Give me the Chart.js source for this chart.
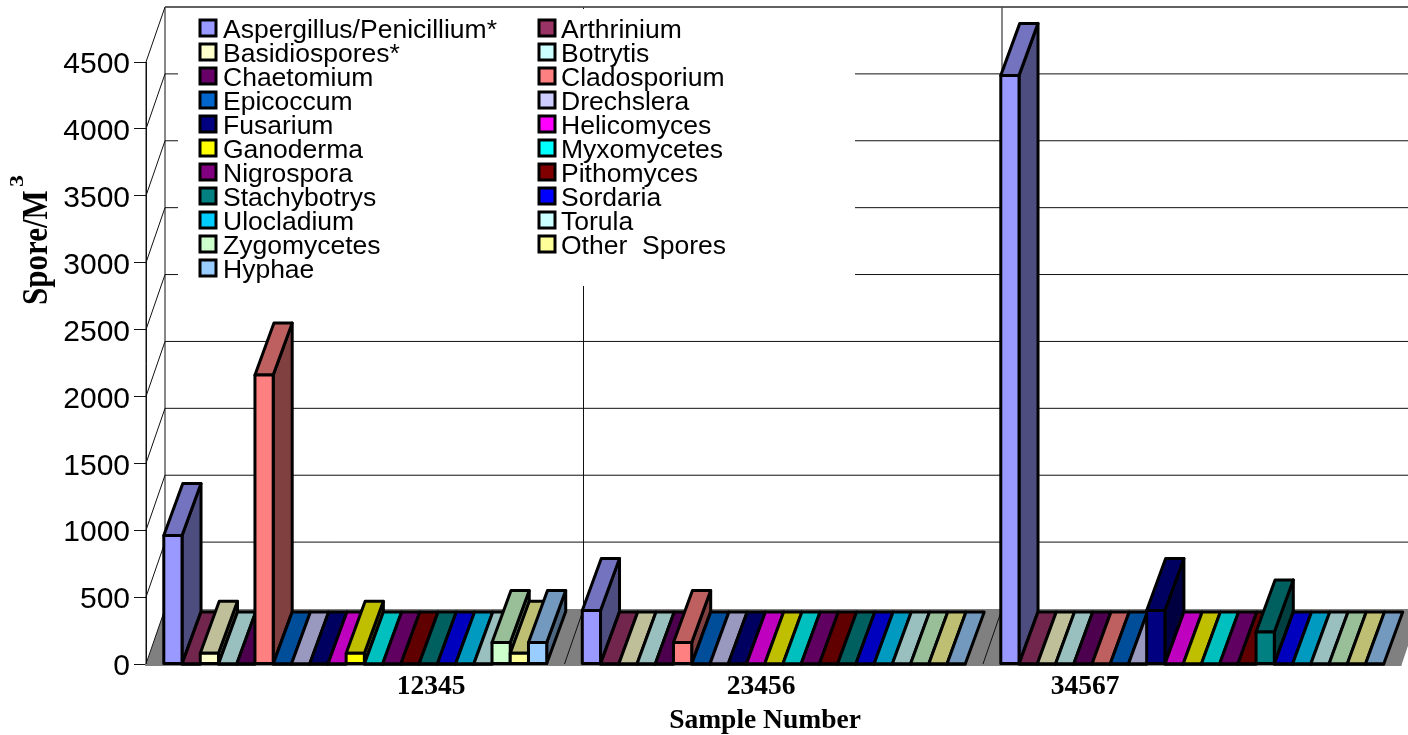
<!DOCTYPE html>
<html>
<head>
<meta charset="utf-8">
<style>
  html, body { margin: 0; padding: 0; background: #fff; overflow: hidden; }
  canvas { display: block; }
</style>
<script src="https://cdn.jsdelivr.net/npm/chart.js@4"></script>
</head>
<body>
<canvas id="sporeChart" width="1408" height="735"></canvas>
<script>
const categories = ["12345", "23456", "34567"];
const seriesNames = [
  "Aspergillus/Penicillium*", "Arthrinium", "Basidiospores*", "Botrytis",
  "Chaetomium", "Cladosporium", "Epicoccum", "Drechslera", "Fusarium",
  "Helicomyces", "Ganoderma", "Myxomycetes", "Nigrospora", "Pithomyces",
  "Stachybotrys", "Sordaria", "Ulocladium", "Torula", "Zygomycetes",
  "Other  Spores", "Hyphae",
];
const seriesColors = [
  "#9999FF", "#993366", "#FFFFCC", "#CCFFFF", "#660066", "#FF8080", "#0066CC",
  "#CCCCFF", "#000080", "#FF00FF", "#FFFF00", "#00FFFF", "#800080", "#800000",
  "#008080", "#0000FF", "#00CCFF", "#CCFFFF", "#CCFFCC", "#FFFF99", "#99CCFF",
];
const sample12345 = [960, 0, 80, 0, 0, 2160, 0, 0, 0, 0, 80, 0, 0, 0, 0, 0, 0, 0, 160, 80, 160];
const sample23456 = [400, 0, 0, 0, 0, 160, 0, 0, 0, 0, 0, 0, 0, 0, 0, 0, 0, 0, 0, 0, 0];
const sample34567 = [4400, 0, 0, 0, 0, 0, 0, 0, 400, 0, 0, 0, 0, 0, 240, 0, 0, 0, 0, 0, 0];
const samples = [sample12345, sample23456, sample34567];

const yTicks = [0, 500, 1000, 1500, 2000, 2500, 3000, 3500, 4000, 4500];
const yMax = 4500;

// depth of the fake 3D box, the original is an old Excel 3D column chart
const wallDx = 19, wallDy = -55;
const barDx = 19, barDy = -52;
const catLabelX = [431, 761, 1085];

function shade(hex, f) {
  const n = parseInt(hex.slice(1), 16);
  const r = Math.round(((n >> 16) & 255) * f);
  const g = Math.round(((n >> 8) & 255) * f);
  const b = Math.round((n & 255) * f);
  return `rgb(${r},${g},${b})`;
}

function poly(ctx, pts, fill) {
  ctx.beginPath();
  pts.forEach((p, i) => (i ? ctx.lineTo(p[0], p[1]) : ctx.moveTo(p[0], p[1])));
  ctx.closePath();
  ctx.fillStyle = fill;
  ctx.fill();
  ctx.stroke();
}

function line(ctx, x0, y0, x1, y1) {
  ctx.beginPath();
  ctx.moveTo(x0, y0);
  ctx.lineTo(x1, y1);
  ctx.stroke();
}

function barRects(chart, index) {
  return chart.getDatasetMeta(index).data.map((bar) => {
    const { x, y, base, width } = bar.getProps(["x", "y", "base", "width"], true);
    return { l: x - width / 2, r: x + width / 2, y, base };
  });
}

function drawBarFaces(chart, index) {
  const { ctx } = chart;
  const color = seriesColors[index];
  ctx.save();
  ctx.strokeStyle = "#000";
  ctx.lineWidth = 3;
  ctx.lineJoin = "round";
  barRects(chart, index).forEach(({ l, r, y, base }) => {
    if (base - y > 0.5) {
      poly(ctx, [[r, y], [r + barDx, y + barDy], [r + barDx, base + barDy], [r, base]], shade(color, 0.5));
    }
    poly(ctx, [[l, y], [l + barDx, y + barDy], [r + barDx, y + barDy], [r, y]], shade(color, 0.75));
  });
  ctx.restore();
}

// the outline is centred on the bar edge here, Chart.js would inset it
function strokeBarFronts(chart, index) {
  const { ctx } = chart;
  ctx.save();
  ctx.strokeStyle = "#000";
  ctx.lineWidth = 3;
  ctx.lineJoin = "round";
  barRects(chart, index).forEach(({ l, r, y, base }) => {
    ctx.strokeRect(l, y, r - l, base - y);
  });
  ctx.restore();
}

// walls, floor and grid behind the bars
const box3d = {
  id: "box3d",
  beforeDatasetsDraw(chart) {
    const { ctx, chartArea: a, scales: { x, y } } = chart;
    const cw = x.getPixelForValue(1) - x.getPixelForValue(0);
    const bottom = y.getPixelForValue(0);
    ctx.save();
    ctx.fillStyle = "#808080";
    ctx.beginPath();
    ctx.moveTo(a.left, bottom + 1);
    ctx.lineTo(a.left + wallDx, bottom + wallDy);
    ctx.lineTo(a.right + wallDx, bottom + wallDy);
    ctx.lineTo(a.right, bottom + 1);
    ctx.closePath();
    ctx.fill();

    ctx.strokeStyle = "#111";
    ctx.lineWidth = 1;
    yTicks.forEach((t) => {
      const py = y.getPixelForValue(t);
      line(ctx, a.left, py, a.left + wallDx, py + wallDy);
      if (t > 0) line(ctx, a.left + wallDx, py + wallDy, a.right + wallDx, py + wallDy);
    });
    for (let i = 1; i < categories.length; i++) {
      const fx = a.left + cw * i;
      line(ctx, fx, bottom, fx + wallDx, bottom + wallDy);
      line(ctx, fx + wallDx, bottom + wallDy, fx + wallDx, a.top + wallDy);
    }
    line(ctx, a.left + wallDx, bottom + wallDy, a.left + wallDx, a.top + wallDy);
    line(ctx, a.left, bottom, a.left, a.top);

    // legend sits on a white panel that hides the grid
    ctx.fillStyle = "#fff";
    ctx.fillRect(178, 9, 677, 277);
    ctx.strokeStyle = "#555";
    ctx.lineWidth = 1.5;
    line(ctx, a.left + wallDx, a.top + wallDy, a.right + wallDx, a.top + wallDy);
    ctx.strokeStyle = "#808080";
    ctx.lineWidth = 2;
    line(ctx, a.left - 1, bottom + 1, a.right, bottom + 1);
    ctx.restore();

    // series have to paint left to right so each bar covers the floor strip before it,
    // the default is last dataset first
    seriesNames.forEach((name, i) => {
      drawBarFaces(chart, i);
      chart.getDatasetMeta(i).controller.draw();
      strokeBarFronts(chart, i);
    });
  },
  beforeDatasetDraw() {
    return false;
  },
  afterDraw(chart) {
    const { ctx } = chart;
    ctx.save();
    // legend, two columns filled row by row
    ctx.textBaseline = "middle";
    ctx.font = "26.5px 'Liberation Sans', Arial, sans-serif";
    seriesNames.forEach((name, i) => {
      const col = i % 2, row = (i - col) / 2;
      const bx = col ? 539 : 200, cy = 29 + row * 24;
      ctx.fillStyle = seriesColors[i];
      ctx.strokeStyle = "#000";
      ctx.lineWidth = 3;
      ctx.fillRect(bx, cy - 9, 16, 16);
      ctx.strokeRect(bx, cy - 9, 16, 16);
      ctx.fillStyle = "#000";
      ctx.fillText(name, bx + (col ? 22 : 23), cy + 1.5);
    });

    ctx.textAlign = "center";
    ctx.font = "bold 27.5px 'Liberation Serif', 'Times New Roman', serif";
    categories.forEach((c, i) => ctx.fillText(c, catLabelX[i], 687));
    ctx.fillText("Sample Number", 765, 721);

    // axis title, the 3 is a squashed superscript in the original
    ctx.textBaseline = "alphabetic";
    ctx.textAlign = "left";
    ctx.translate(46.5, 305);
    ctx.rotate(-Math.PI / 2);
    ctx.save();
    ctx.scale(1, 1.15);
    ctx.font = "bold 31px 'Liberation Serif', 'Times New Roman', serif";
    ctx.fillText("Spore/M", 0, 0);
    ctx.restore();
    ctx.translate(118, -24);
    ctx.scale(1, 0.75);
    ctx.font = "bold 24px 'Liberation Serif', 'Times New Roman', serif";
    ctx.fillText("3", 0, 0);
    ctx.restore();
  },
};

const chart = new Chart(document.querySelector("#sporeChart").getContext("2d"), {
  type: "bar",
  data: {
    labels: categories,
    datasets: seriesNames.map((name, i) => ({
      label: name,
      data: samples.map((s) => s[i]),
      backgroundColor: seriesColors[i],
      borderWidth: 0,
      barPercentage: 1,
      categoryPercentage: 0.915,
      clip: false,
    })),
  },
  options: {
    responsive: false,
    animation: false,
    layout: { padding: { top: 62, bottom: 71, right: 6.5, left: 0 } },
    plugins: { legend: { display: false }, tooltip: { enabled: false } },
    scales: {
      x: { display: false },
      y: {
        min: 0,
        max: yMax,
        afterFit(scale) { scale.width = 146; },
        afterBuildTicks(scale) { scale.ticks = yTicks.map((v) => ({ value: v })); },
        border: { color: "#111", width: 1 },
        grid: { drawOnChartArea: false, color: "#111", tickLength: 12 },
        ticks: {
          color: "#000",
          padding: 4,
          labelOffset: 3,
          callback: (v) => String(v),
          font: { family: "'Liberation Sans', Arial, sans-serif", size: 30 },
        },
      },
    },
  },
  plugins: [box3d],
});
</script>
</body>
</html>
